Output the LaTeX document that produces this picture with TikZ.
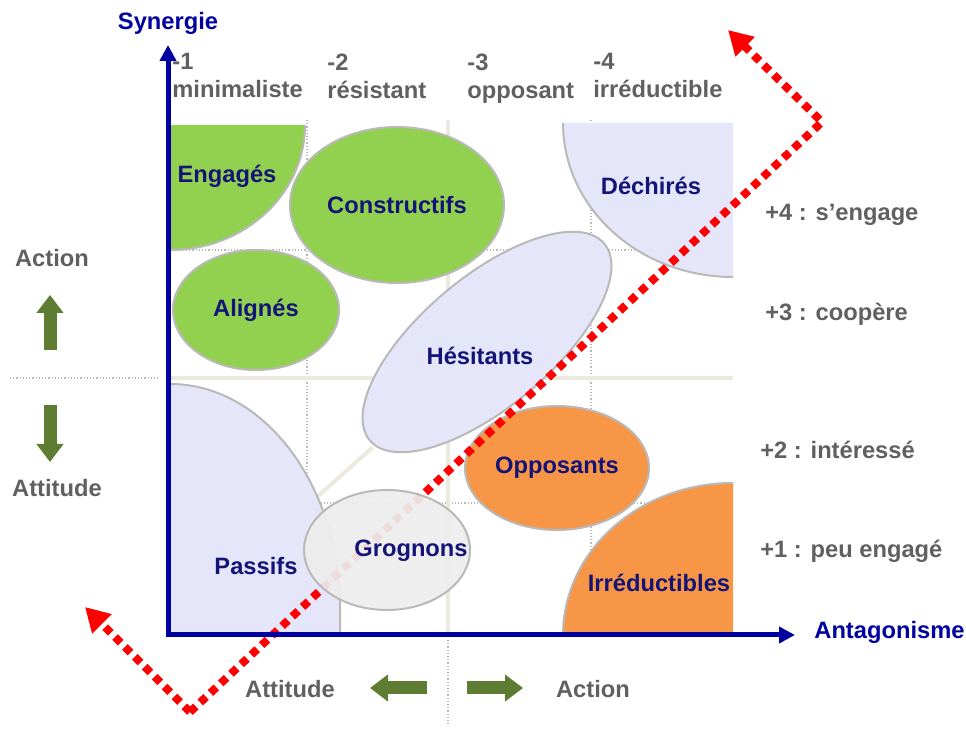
\documentclass[tikz,border=0pt]{standalone}
\usepackage{fontspec}
\setmainfont{Liberation Sans}
\usetikzlibrary{positioning,arrows.meta}
\definecolor{axisblue}{RGB}{0,0,160}
\definecolor{labelblue}{RGB}{20,20,120}
\definecolor{txtgray}{RGB}{96,96,96}
\definecolor{leafgreen}{RGB}{146,208,80}
\definecolor{softorange}{RGB}{247,150,70}
\definecolor{lavender}{RGB}{230,230,250}
\definecolor{olive}{RGB}{95,125,50}
\definecolor{linegray}{RGB}{185,185,185}
\definecolor{beige}{RGB}{236,234,222}

\begin{document}
\begin{tikzpicture}[x=0.5pt,y=0.5pt,
        every node/.style={font=\fontsize{11.85}{14}\selectfont\bfseries,inner sep=0pt},
        grp/.style={text=labelblue},
        lvl/.style={text=txtgray,align=left,anchor=west},
        side/.style={text=txtgray,anchor=base west},
        zone/.style={draw=linegray,line width=1pt},
        axis/.style={axisblue,line width=2.5pt,-{Triangle[length=8pt,width=8pt]}},
        bigarrow/.style={olive,line width=6.5pt,-{Triangle[length=9pt,width=13pt]}},
        reddots/.style={red,line width=4pt,dash pattern=on 4pt off 3pt,
            -{Triangle[length=12pt,width=13pt]}},
        gridline/.style={linegray,densely dotted,line width=0.6pt}]
    \useasboundingbox (0,0) rectangle (966,729);
    %
    \begin{scope}% grid
        \foreach \gx in {307,591}
            \draw[gridline] (\gx,609) -- (\gx,94);
        \foreach \gy in {479,226}
            \draw[gridline] (170,\gy) -- (733,\gy);
        \draw[beige,line width=2pt] (170,351) -- (733,351);
        \draw[beige,line width=2pt] (448,609) -- (448,94);
        \draw[beige,line width=2pt] (373,282) -- (317,232);
        \draw[gridline] (10,351) -- (160,351);
        \draw[gridline] (448,89) -- (448,4);
    \end{scope}
    %
    \begin{scope}% zones
        \fill[leafgreen] (170,604) -- (305,604)
            arc[start angle=0,end angle=-90,x radius=135,y radius=125] -- cycle;
        \draw[zone] (305,604) arc[start angle=0,end angle=-90,x radius=135,y radius=125];
        \filldraw[zone,fill=leafgreen] (397,524) ellipse[x radius=107,y radius=78];
        \filldraw[zone,fill=leafgreen] (256,419) ellipse[x radius=83,y radius=60];
        \fill[lavender] (733,606) -- (563,606)
            arc[start angle=180,end angle=270,x radius=170,y radius=154] -- cycle;
        \draw[zone] (563,606) arc[start angle=180,end angle=270,x radius=170,y radius=154];
        \filldraw[zone,fill=lavender,rotate around={40:(487,387)}]
            (487,387) ellipse[x radius=153,y radius=65];
        \filldraw[zone,fill=softorange] (557,261) ellipse[x radius=92,y radius=62];
        \fill[softorange] (733,94) -- (563,94)
            arc[start angle=180,end angle=90,x radius=170,y radius=152] -- cycle;
        \draw[zone] (563,94) arc[start angle=180,end angle=90,x radius=170,y radius=152];
        \fill[lavender] (170,94) -- (170,345)
            arc[start angle=90,end angle=0,x radius=170,y radius=225] -- (340,94) -- cycle;
        \draw[zone] (170,345)
            arc[start angle=90,end angle=0,x radius=170,y radius=225] -- (340,94);
    \end{scope}
    %
    \node[grp] (engages) at (227,553) {Engagés};
    \node[grp] (constructifs) at (397,524) {Constructifs};
    \node[grp] (alignes) at (256,419) {Alignés};
    \node[grp] (dechires) at (651,543) {Déchirés};
    \node[grp] (hesitants) at (480,373) {Hésitants};
    \node[grp] (opposants) at (557,261) {Opposants};
    \node[grp] (irreductibles) at (659,146) {Irréductibles};
    \node[grp] (passifs) at (256,163) {Passifs};
    %
    \coordinate (redL) at (85,122);
    \coordinate (redB) at (190,17);
    \coordinate (redR) at (822,607);
    \coordinate (redT) at (728,699);
    \draw[reddots] (redB) -- (redR) -- (redT);
    \draw[reddots] (redB) -- (redL);
    %
    \filldraw[draw=linegray,line width=1pt,fill=gray!14,fill opacity=0.93]
        (387,179) ellipse[x radius=83,y radius=60];
    \node[grp] (grognons) at (411,178) {Grognons};
    %
    \coordinate (O) at (168,94);
    \coordinate (ytop) at (168,684);
    \coordinate (xend) at (795,94);
    \draw[axis] (O) -- (ytop);
    \draw[axis] ([xshift=-1.25pt]O) -- (xend);
    \node[text=axisblue] (syn) at (168,706) {Synergie};
    \node[text=axisblue,anchor=west] (ant) at (814,97) {Antagonisme};
    %
    \node[lvl] (c1) at (172,649) {-1\\minimaliste\strut};
    \node[lvl] (c2) at (327,649) {-2\\résistant\strut};
    \node[lvl] (c3) at (467,649) {-3\\opposant\strut};
    \node[lvl] (c4) at (593,649) {-4\\irréductible\strut};
    \node[side] (r4) at (765,508) {+4 : s’engage};
    \node[side] (r3) at (765,408) {+3 : coopère};
    \node[side] (r2) at (760,270) {+2 : intéressé};
    \node[side] (r1) at (760,171) {+1 : peu engagé};
    %
    \node[text=txtgray] (actL) at (52,471) {Action};
    \node[text=txtgray] (attL) at (57,241) {Attitude};
    \draw[bigarrow] (50,379) -- (50,434);
    \draw[bigarrow] (50,324) -- (50,267);
    \node[text=txtgray] (attB) at (290,40) {Attitude};
    \node[text=txtgray] (actB) at (593,40) {Action};
    \draw[bigarrow] (427,41) -- (370,41);
    \draw[bigarrow] (467,41) -- (523,41);
    %
\end{tikzpicture}
\end{document}
